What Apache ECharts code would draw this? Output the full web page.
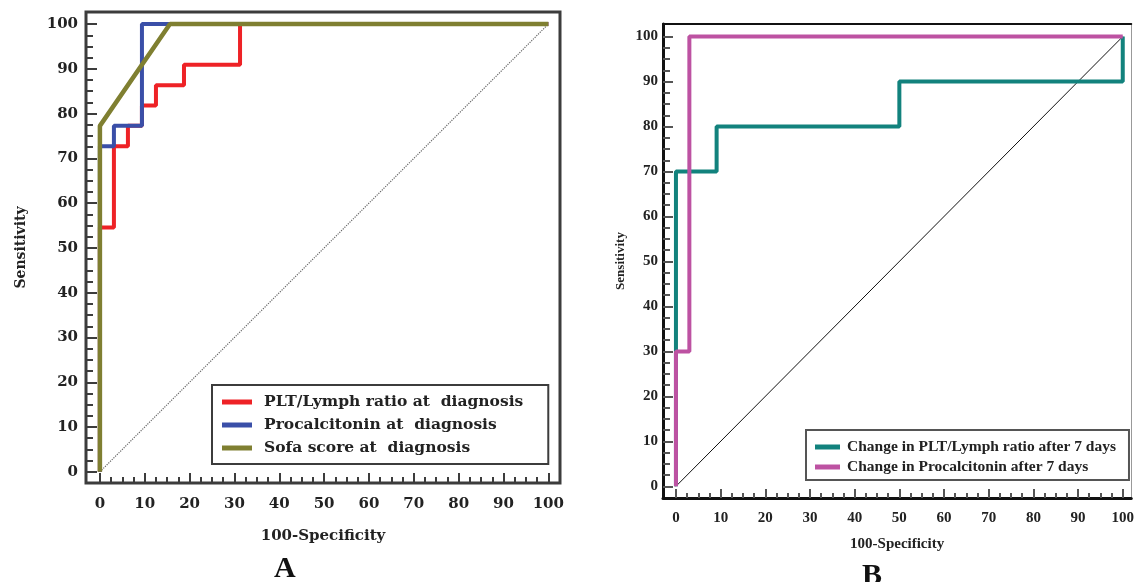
<!DOCTYPE html>
<html>
<head>
<meta charset="utf-8">
<script src="https://cdn.jsdelivr.net/npm/echarts@6/dist/echarts.min.js"></script>
<style>
html, body { margin: 0; padding: 0; background: #fff; }
#chart { width: 1137px; height: 582px; }
</style>
</head>
<body>
<div id="chart"></div>
<script>
// panel A: ROC curves at diagnosis (x = 100-specificity, y = sensitivity)
const plrFpr = [0, 0, 3.125, 6.25, 9.375, 12.5, 18.75, 31.25, 100]
const plrTpr = [0, 54.55, 72.73, 77.27, 81.82, 86.36, 90.91, 100, 100]
const pctFpr = [0, 0, 3.125, 9.375, 100]
const pctTpr = [0, 72.73, 77.27, 100, 100]
const sofaFpr = [0, 0, 15.625, 100]
const sofaTpr = [0, 77.27, 100, 100]

// panel B: change after 7 days
const plrChgFpr = [0, 0, 9.1, 50, 100]
const plrChgTpr = [0, 70, 80, 90, 100]
const pctChgFpr = [0, 0, 3, 100]
const pctChgTpr = [0, 30, 100, 100]

// reference diagonal
const diagX = [0, 100]
const diagY = [0, 100]

const namesA = ['PLT/Lymph ratio at  diagnosis', 'Procalcitonin at  diagnosis', 'Sofa score at  diagnosis']
const namesB = ['Change in PLT/Lymph ratio after 7 days', 'Change in Procalcitonin after 7 days']

// tick positions
const majorTicks = [0, 10, 20, 30, 40, 50, 60, 70, 80, 90, 100]
const minorTicks = []
for (let v = 2.5; v < 100; v += 2.5) {
  if (v % 10 !== 0) minorTicks.push(v)
}

const serif = "'Liberation Serif', 'Times New Roman', serif"
const slab = "'DejaVu Serif', serif"
const pairs = (xs, ys) => xs.map((x, i) => [x, ys[i]])

// one value axis; extra = overrides
const axis = (grid, min, max, extra) => Object.assign({
  gridIndex: grid,
  type: 'value',
  min: min,
  max: max,
  splitLine: { show: false },
  axisLine: { show: false, onZero: false },
  axisTick: { show: false },
  axisLabel: { show: false }
}, extra)

const ticks = (list, len, color) => ({
  show: true, inside: true, length: len, customValues: list,
  lineStyle: { color: color, width: 2 }
})

const labels = (font, size, margin) => ({
  show: true, customValues: majorTicks, margin: margin,
  fontFamily: font, fontWeight: 'bold', fontSize: size, color: '#222'
})

const axisName = (font, size) => ({ fontFamily: font, fontWeight: 'bold', fontSize: size, color: '#222' })

const chart = echarts.init(document.getElementById('chart'))

const option = {
  animation: false,
  backgroundColor: '#fff',
  title: [
    { text: 'A', left: 274, top: 554, padding: 0, textStyle: { fontFamily: serif, fontWeight: 'bold', fontSize: 30, color: '#111' } },
    { text: 'B', left: 862, top: 561, padding: 0, textStyle: { fontFamily: serif, fontWeight: 'bold', fontSize: 30, color: '#111' } }
  ],
  grid: [
    { left: 86, top: 12, width: 474, height: 471, show: true, borderColor: '#3c3c3c', borderWidth: 3, backgroundColor: '#fff' },
    { left: 663, top: 24, width: 472, height: 474, show: false }
  ],
  xAxis: [
    // A
    axis(0, -3.1, 102.6, {
      position: 'bottom',
      axisTick: ticks(majorTicks, 10, '#3c3c3c'),
      axisLabel: labels(slab, 15, 14),
      name: '100-Specificity', nameLocation: 'middle', nameGap: 46,
      nameTextStyle: axisName(slab, 15)
    }),
    axis(0, -3.1, 102.6, { position: 'bottom', axisTick: ticks(minorTicks, 6, '#3c3c3c') }),
    // B
    axis(1, -2.9, 101.9, {
      position: 'bottom',
      axisLine: { show: true, onZero: false, lineStyle: { color: '#111', width: 3 } },
      axisTick: ticks(majorTicks, 9, '#555'),
      axisLabel: labels(serif, 15, 13),
      name: '100-Specificity', nameLocation: 'middle', nameGap: 39,
      nameTextStyle: axisName(serif, 15)
    }),
    axis(1, -2.9, 101.9, { position: 'bottom', axisTick: ticks(minorTicks, 5, '#555') }),
    axis(1, -2.9, 101.9, {
      position: 'top',
      axisLine: { show: true, onZero: false, lineStyle: { color: '#111', width: 2 } }
    })
  ],
  yAxis: [
    // A
    axis(0, -2.5, 102.7, {
      position: 'left',
      axisTick: ticks(majorTicks, 11, '#3c3c3c'),
      axisLabel: labels(slab, 15, 8),
      name: 'Sensitivity', nameLocation: 'middle', nameGap: 58,
      nameTextStyle: axisName(slab, 14)
    }),
    axis(0, -2.5, 102.7, { position: 'left', axisTick: ticks(minorTicks, 7, '#3c3c3c') }),
    // B
    axis(1, -2.6, 102.8, {
      position: 'left',
      axisLine: { show: true, onZero: false, lineStyle: { color: '#111', width: 3 } },
      axisTick: ticks(majorTicks, 10, '#555'),
      axisLabel: labels(serif, 15, 5),
      name: 'Sensitivity', nameLocation: 'middle', nameGap: 36,
      nameTextStyle: axisName(serif, 13)
    }),
    axis(1, -2.6, 102.8, { position: 'left', axisTick: ticks(minorTicks, 7, '#555') }),
    axis(1, -2.6, 102.8, {
      position: 'right',
      axisLine: { show: true, onZero: false, lineStyle: { color: '#999', width: 1 } }
    })
  ],
  legend: [
    {
      data: namesA, orient: 'vertical', left: 212, top: 385,
      icon: 'rect', itemWidth: 30, itemHeight: 5, itemGap: 7,
      padding: [9, 25, 8, 10],
      borderColor: '#3c3c3c', borderWidth: 2, backgroundColor: '#fff',
      textStyle: { fontFamily: slab, fontWeight: 'bold', fontSize: 15.5, color: '#222', padding: [0, 0, 0, 7] }
    },
    {
      data: namesB, orient: 'vertical', left: 806, top: 430,
      icon: 'rect', itemWidth: 25, itemHeight: 5, itemGap: 4,
      padding: [9, 13, 5, 9],
      borderColor: '#555', borderWidth: 2, backgroundColor: '#fff',
      textStyle: { fontFamily: serif, fontWeight: 'bold', fontSize: 15.5, color: '#222', padding: [0, 0, 0, 2] }
    }
  ],
  series: [
    {
      type: 'line', xAxisIndex: 0, yAxisIndex: 0, data: pairs(diagX, diagY),
      showSymbol: false, silent: true,
      lineStyle: { color: '#666', width: 1.2, type: 'dotted' }
    },
    {
      name: namesA[0], type: 'line', xAxisIndex: 0, yAxisIndex: 0, step: 'end',
      data: pairs(plrFpr, plrTpr), showSymbol: false, color: '#ee2226',
      lineStyle: { width: 4 }
    },
    {
      name: namesA[1], type: 'line', xAxisIndex: 0, yAxisIndex: 0, step: 'end',
      data: pairs(pctFpr, pctTpr), showSymbol: false, color: '#3a4fa8',
      lineStyle: { width: 4 }
    },
    {
      name: namesA[2], type: 'line', xAxisIndex: 0, yAxisIndex: 0,
      data: pairs(sofaFpr, sofaTpr), showSymbol: false, color: '#7f7f31',
      lineStyle: { width: 4.5 }
    },
    {
      type: 'line', xAxisIndex: 2, yAxisIndex: 2, data: pairs(diagX, diagY),
      showSymbol: false, silent: true,
      lineStyle: { color: '#111', width: 1 }
    },
    {
      name: namesB[0], type: 'line', xAxisIndex: 2, yAxisIndex: 2, step: 'end',
      data: pairs(plrChgFpr, plrChgTpr), showSymbol: false, color: '#12827d',
      lineStyle: { width: 4 }
    },
    {
      name: namesB[1], type: 'line', xAxisIndex: 2, yAxisIndex: 2, step: 'end',
      data: pairs(pctChgFpr, pctChgTpr), showSymbol: false, color: '#bd52a2',
      lineStyle: { width: 4 }
    }
  ]
}

chart.setOption(option)
</script>
</body>
</html>
